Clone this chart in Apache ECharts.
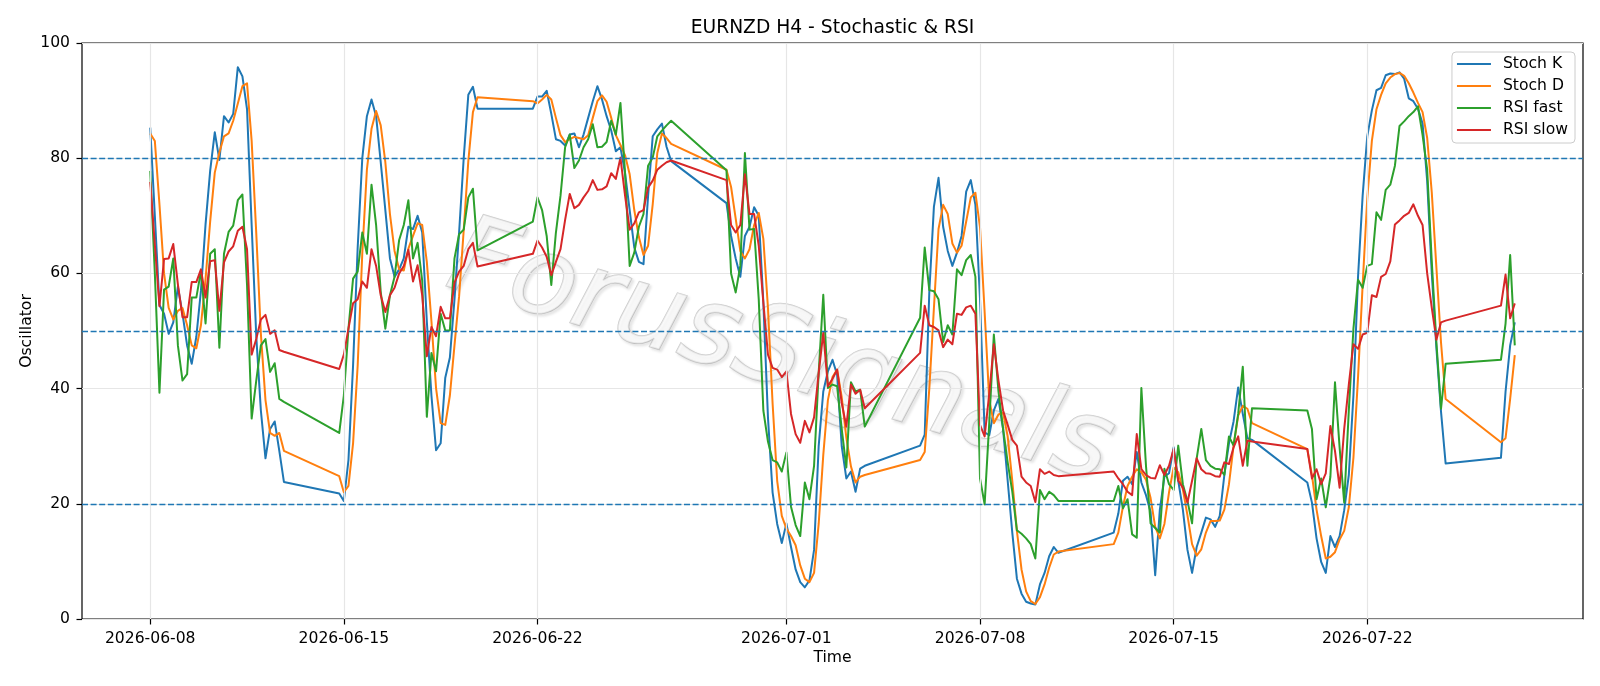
<!DOCTYPE html>
<html>
<head>
<meta charset="utf-8">
<title>EURNZD H4 - Stochastic & RSI</title>
<script src="https://cdn.jsdelivr.net/npm/echarts@6/dist/echarts.min.js"></script>
<style>
  html, body { margin: 0; padding: 0; background: #fff; }
  #main { width: 1600px; height: 686px; }
</style>
</head>
<body>
<div id="main"></div>
<script>
// H4 sessions: each week opens with a Sunday 20:00 bar (except the first), then Mon 00:00 .. Fri 20:00
var weekStarts = ['2026-06-08', '2026-06-15', '2026-06-22', '2026-06-29', '2026-07-06', '2026-07-13', '2026-07-20', '2026-07-27'];
var barsPerWeek = [30, 30, 30, 30, 30, 30, 30, 3];

// x tick labels (matplotlib day locator picks 1/8/15/22)
var tickDates = ['2026-06-08', '2026-06-15', '2026-06-22', '2026-07-01', '2026-07-08', '2026-07-15', '2026-07-22'];

// one line per week, first value of weeks 2..8 is the Sunday bar
var stochK = [
  85.3, 70, 54.5, 53, 49.5, 51.5, 57.7, 53, 47.5, 44.3, 49, 57, 68.5, 77.8, 84.5, 79.7, 87.3, 86.2, 87.7, 95.8, 94.2, 88.5, 68.4, 49.1, 36.2, 27.9, 33, 34.3, 29.2, 23.8,
  21.8, 20.5, 27.6, 44, 64.5, 80, 87.3, 90.2, 87.3, 79.3, 71, 62.6, 59.4, 60.7, 62.6, 68.1, 67.7, 70, 67.1, 51.7, 38.8, 29.3, 30.5, 41.9, 45.4, 55.5, 67.1, 80, 91, 92.4, 88.6,
  88.6, 90.7, 90.7, 91.7, 87.7, 83.3, 83, 82.2, 84.1, 84.3, 81.9, 84.1, 87, 89.9, 92.5, 90.2, 87.3, 84.8, 81.2, 81.9, 77.4, 71, 64.5, 62, 61.6, 73.5, 83.8, 85, 86, 82, 79.5,
  72.2, 66.5, 62.6, 59.4, 66.5, 68.1, 71.5, 70, 55, 35, 22, 16.5, 13.2, 16.6, 12.5, 8.6, 6.4, 5.5, 6.7, 12, 30, 39.5, 43, 45, 42.4, 30, 24.4, 25.6, 22.1, 26.1, 26.6,
  30.1, 32, 56.8, 71.6, 76.6, 68.1, 63.9, 61.3, 63.6, 66.5, 74.2, 76.2, 71.9, 55.5, 32.4, 31.9, 36.2, 38.2, 33, 24, 15, 7, 4.4, 3, 2.7, 2.5, 6, 8, 10.9, 12.5, 11.5,
  15, 18.3, 24, 24.7, 23.4, 29, 23.7, 21.5, 18.6, 7.6, 18.9, 24.7, 25.3, 29.8, 24, 19, 12, 8, 12.5, 15, 17.6, 17.3, 16, 17.9, 25, 30.5, 34.3, 40.2, 35.6, 31.4, 31.1,
  23.7, 20.2, 14, 9.9, 8, 14.4, 12.5, 14.4, 18.9, 25, 38.8, 59.4, 73.5, 83.8, 88.3, 91.8, 92.2, 94.4, 94.7, 94.6, 94.9, 93.8, 90.4, 89.9, 88.6, 86, 76, 60, 47, 36, 27,
  28, 39.5, 47.5, 51.5
];
var stochD = [
  84.3, 83, 72, 60, 54, 52, 53.5, 54, 51, 47.5, 47, 51, 59, 69, 77.5, 81, 83.8, 84.3, 86.5, 89.5, 92.5, 93, 83, 67, 49.5, 38, 32.3, 31.8, 32.3, 29.2,
  24.8, 22, 23.1, 30.5, 44, 63.5, 78, 85.1, 88.2, 85.7, 79.3, 70.3, 63.9, 60.7, 60.5, 64.3, 66.5, 68.7, 68.4, 62, 51.7, 40.1, 34, 33.7, 38.8, 47.5, 56, 67.5, 79.5, 88, 90.6,
  89.9, 89.5, 90.2, 91, 90.2, 87, 84, 82.8, 83.3, 83.7, 83.5, 83.3, 84, 87, 89.9, 90.9, 89.8, 87, 84, 82.3, 80.5, 77.2, 71, 66.3, 63.2, 64.8, 72, 80.9, 84.3, 83.5, 82.5,
  78, 75, 69.5, 63.9, 62.6, 64.2, 68.4, 70.5, 66, 54, 37.5, 24, 17.9, 15.7, 14.4, 12.8, 9.3, 7, 6.4, 8, 16.5, 28.5, 38, 42, 43.3, 38.5, 31.5, 26.5, 23.7, 24.7, 25,
  27.6, 29, 40, 54, 67.7, 71.9, 70.3, 65.2, 63.6, 64.8, 69, 73.2, 74, 68, 53.3, 38, 34, 35.5, 35.8, 31.7, 24, 15.3, 8.6, 4.8, 3.1, 2.6, 3.8, 6, 8.9, 11.2, 11.7,
  13, 15, 19.5, 23.1, 24.7, 26, 25.5, 24.2, 21, 16, 14, 16.5, 22, 26.3, 25.5, 22.5, 18, 13, 11, 12.1, 15, 17, 17, 17.1, 19, 23.4, 30, 35.3, 37, 36.5, 34,
  29.5, 25, 19, 14.4, 10.5, 10.8, 11.6, 13.8, 15.3, 19.4, 28, 42, 58, 73, 83, 88.5, 91, 93, 94, 94.6, 94.8, 94.3, 93, 91.4, 89.6, 88, 83.5, 74, 61, 48, 38.2,
  30.7, 31.4, 38.2, 45.8
];
var rsiFast = [
  77.8, 60, 39.3, 57.2, 57.7, 62.6, 47.5, 41.4, 42.5, 55.8, 55.8, 60.4, 51.3, 63.4, 64.2, 47.1, 63.4, 67.2, 68.3, 72.7, 73.7, 58, 34.8, 41.4, 47.5, 48.6, 42.9, 44.4, 38.2, 37.7,
  32.3, 38.8, 50.4, 59.1, 60.3, 67.1, 63.4, 75.4, 68.4, 56.8, 50.4, 56.2, 59.4, 65.8, 68.4, 72.7, 62.6, 65.3, 58.7, 35.1, 46.2, 43, 53, 50.1, 50.1, 62.6, 66.8, 67.6, 73.2, 74.7, 64,
  69, 73.2, 71, 66.5, 58, 67.1, 73.5, 81.9, 84.1, 78.3, 79.6, 81.9, 83.3, 85.9, 81.9, 82, 82.8, 86.5, 84.1, 89.6, 77.4, 61.3, 63.6, 68.1, 70.3, 78.7, 80.1, 83.8, 84.8, 85.7, 86.5,
  77.9, 60, 56.7, 61.3, 80.9, 67.6, 67.7, 55.5, 36.2, 30.8, 27.6, 27.2, 25.6, 28.9, 19.5, 16.3, 14.4, 23.7, 20.8, 26.6, 42.7, 56.3, 40.1, 40.7, 40.4, 33, 26.3, 41.1, 39.5, 39.8, 33.4,
  52.3, 64.5, 57.1, 56.9, 55.5, 48.1, 51, 49.4, 60.7, 59.7, 62.3, 63.2, 59.4, 24.4, 19.9, 34, 49.4, 39.5, 33, 27.2, 22.1, 15.4, 14.8, 14, 13, 10.5, 22.4, 20.8, 22.1, 21.5, 20.5, 20.5,
  23.1, 19.2, 20.8, 14.7, 14.1, 40.1, 26.6, 16.6, 15.8, 15, 26.1, 23.4, 22.4, 30.1, 23.4, 20.5, 16.6, 27.9, 33, 27.6, 26.6, 26.1, 26, 25, 31.7, 30.1, 35.6, 43.8, 26.6, 36.6, 36.2,
  33, 20.8, 24.4, 19.4, 24.7, 41.1, 29.8, 20.2, 36.2, 50.4, 58.9, 57.5, 61.3, 61.6, 70.6, 69.3, 74.5, 75.4, 78.7, 85.6, 86.4, 87.3, 88, 89, 84, 78, 62, 48, 36.5, 44.3, 45,
  51.3, 63.2, 47.5, 53.3
];
var rsiSlow = [
  75.9, 65, 54.3, 62.5, 62.6, 65.1, 58.1, 52.4, 52.4, 58.5, 58.5, 60.7, 55.8, 62.1, 62.3, 53.5, 61.9, 63.8, 64.7, 67.4, 68.1, 64.2, 45.9, 48.6, 52, 52.8, 49.5, 50.1, 46.7, 46.4,
  43.4, 45.9, 50.4, 54.8, 55.5, 58.6, 57.5, 64.2, 61.3, 56.2, 53.3, 56.2, 57.5, 60, 61.3, 64.1, 58.6, 61.4, 56.2, 45.6, 50.7, 49.1, 54.2, 52.2, 52.2, 58.4, 60.3, 61.3, 64.2, 65.3, 61.2,
  63.4, 65.7, 64.5, 62.9, 59.7, 62, 64.2, 69.3, 73.8, 71.3, 71.9, 73.2, 74.3, 76.2, 74.5, 74.6, 75.1, 77.4, 76.4, 80.1, 73.5, 67.6, 68.7, 70.6, 71, 74.9, 76.1, 78, 78.7, 79.3, 79.6,
  76.2, 68.4, 67.1, 68.4, 77.2, 70.3, 70.3, 64.8, 54.9, 45.9, 43.6, 43.3, 42, 43, 35.6, 32.1, 30.6, 34.4, 32.4, 35, 42.7, 49.7, 40.4, 41.7, 43.3, 37.5, 33.4, 40.7, 39.1, 39.8, 36.6,
  46.2, 54.4, 51, 50.7, 50.1, 47.2, 48.5, 47.7, 53, 52.8, 54.1, 54.4, 53, 33.7, 31.7, 39.1, 47.7, 41.4, 36.2, 33.7, 31.1, 30.1, 24.7, 23.7, 23.1, 20.3, 26, 25.2, 25.6, 25, 24.8,
  25.6, 24.4, 23.4, 22.1, 21.5, 32.1, 26, 25, 24.5, 24.4, 26.7, 25, 26.6, 29.5, 24, 22.8, 20.2, 24, 27.9, 26, 25.3, 25.2, 24.8, 24.7, 27.2, 26.9, 29.8, 31.7, 26.6, 31, 30.8,
  29.5, 24.4, 26, 23.4, 25.3, 33.5, 29.2, 22.8, 33, 40.7, 47.7, 46.9, 49.4, 49.7, 56.2, 55.9, 59.4, 59.9, 62.1, 68.5, 69.2, 70, 70.5, 72, 70, 68.4, 60, 54, 48.5, 51.5, 51.8,
  54.4, 59.8, 52.2, 54.8
];
var levels = [80, 50, 20];

var H = 3600 * 1000;
var times = [];
weekStarts.forEach(function (d, w) {
  var mon = Date.parse(d + 'T00:00:00Z');
  if (w > 0) times.push(mon - 4 * H);            // Sunday 20:00 open
  for (var i = 0; i < barsPerWeek[w]; i++) times.push(mon + 4 * H * i);
});

function pairs(arr) {
  return times.map(function (t, i) { return [t, arr[i]]; });
}
function fmtDate(v) {
  var d = new Date(v);
  var p = function (n) { return (n < 10 ? '0' : '') + n; };
  return d.getUTCFullYear() + '-' + p(d.getUTCMonth() + 1) + '-' + p(d.getUTCDate());
}

var t0 = times[0], t1 = times[times.length - 1];
var pad = (t1 - t0) * 0.05;   // matplotlib default margins
var ticks = tickDates.map(function (d) { return Date.parse(d + 'T00:00:00Z'); });

var font = 'DejaVu Sans';
var chart = echarts.init(document.getElementById('main'), null, { renderer: 'canvas' });

function lineSeries(name, color, arr) {
  return {
    name: name,
    type: 'line',
    data: pairs(arr),
    showSymbol: false,
    symbol: 'none',
    z: 3,
    lineStyle: { color: color, width: 2, join: 'round' },
    itemStyle: { color: color },
    emphasis: { disabled: true }
  };
}

var option = {
  animation: false,
  backgroundColor: '#fff',
  grid: {
    left: 82, right: 17, top: 43, bottom: 67,
    show: true, borderColor: '#000', borderWidth: 1.2, backgroundColor: 'transparent'
  },
  legend: {
    right: 25, top: 52, orient: 'vertical',
    itemWidth: 34, itemHeight: 2.2, itemGap: 0, icon: 'rect',
    padding: [1, 7, 2, 5],
    backgroundColor: 'rgba(255,255,255,0.8)',
    borderColor: '#cccccc', borderWidth: 1, borderRadius: 4,
    textStyle: { fontFamily: font, fontSize: 15.6, color: '#000', lineHeight: 22, padding: [0, 0, 0, 7] },
    data: ['Stoch K', 'Stoch D', 'RSI fast', 'RSI slow']
  },
  xAxis: {
    type: 'value',
    min: t0 - pad,
    max: t1 + pad,
    axisLine: { show: false },
    axisTick: { show: true, customValues: ticks, length: 5.5, lineStyle: { color: '#000', width: 1.2 } },
    axisLabel: {
      customValues: ticks, margin: 12, fontFamily: font, fontSize: 15.6, color: '#000',
      showMinLabel: true, showMaxLabel: true,
      formatter: function (v) { return fmtDate(v); }
    },
    splitLine: { show: false }
  },
  yAxis: {
    type: 'value', min: 0, max: 100, interval: 20,
    axisLine: { show: false },
    axisTick: { show: true, length: 5.5, lineStyle: { color: '#000', width: 1.2 } },
    axisLabel: { margin: 12, fontFamily: font, fontSize: 15.6, color: '#000' },
    splitLine: { show: true, lineStyle: { color: '#e6e6e6', width: 1.2 } }
  },
  graphic: [
    {
      type: 'text', x: 832.5, y: 28, z: 10,
      style: { text: 'EURNZD H4 - Stochastic & RSI', fontFamily: font, fontSize: 18.7, fill: '#000', align: 'center', verticalAlign: 'middle' }
    },
    {
      type: 'text', x: 832.5, y: 658, z: 10,
      style: { text: 'Time', fontFamily: font, fontSize: 15.6, fill: '#000', align: 'center', verticalAlign: 'middle' }
    },
    {
      type: 'text', x: 26.5, y: 331, rotation: Math.PI / 2, z: 10,
      style: { text: 'Oscillator', fontFamily: font, fontSize: 15.6, fill: '#000', align: 'center', verticalAlign: 'middle' }
    },
    {
      // watermark
      type: 'text', x: 780, y: 356, rotation: -0.29, z: 0,
      style: {
        text: 'ForusSignals', fontFamily: font, fontSize: 108,
        fontStyle: 'italic',
        fill: 'rgba(255,255,255,0.6)', stroke: '#cdcdcd', lineWidth: 1.6,
        textShadowColor: 'rgba(0,0,0,0.12)', textShadowBlur: 3, textShadowOffsetX: 2, textShadowOffsetY: 2,
        align: 'center', verticalAlign: 'middle'
      }
    }
  ],
  series: [
    {
      name: 'grid-x', type: 'line', data: [], z: 1, silent: true,
      markLine: {
        silent: true, symbol: 'none', animation: false,
        label: { show: false },
        lineStyle: { color: '#e6e6e6', width: 1.2, type: 'solid' },
        data: ticks.map(function (t) { return { xAxis: t }; })
      }
    },
    lineSeries('Stoch K', '#1f77b4', stochK),
    lineSeries('Stoch D', '#ff7f0e', stochD),
    lineSeries('RSI fast', '#2ca02c', rsiFast),
    lineSeries('RSI slow', '#d62728', rsiSlow),
    {
      name: 'levels', type: 'line', data: [], z: 4, silent: true,
      markLine: {
        silent: true, symbol: 'none', animation: false,
        label: { show: false },
        lineStyle: { color: '#1f77b4', width: 1.4, type: [6, 2.6] },
        data: levels.map(function (v) { return { yAxis: v }; })
      }
    }
  ]
};
chart.setOption(option);
</script>
</body>
</html>
